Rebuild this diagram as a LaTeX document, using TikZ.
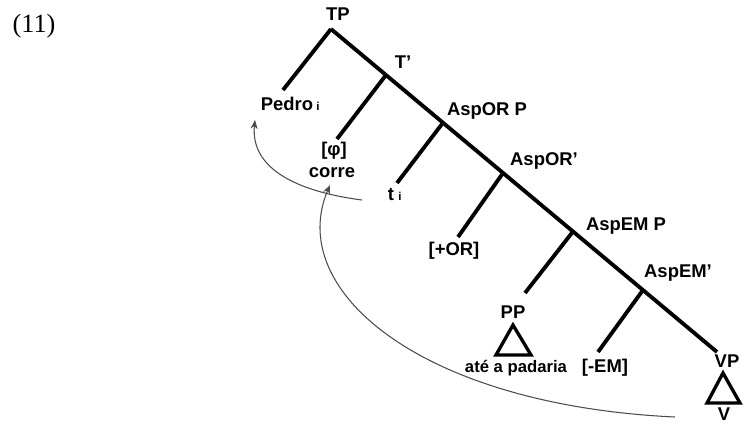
\documentclass[tikz,border=0pt]{standalone}
\usepackage{fontspec}
\setmainfont{Liberation Sans}
\newfontfamily\timesf{Liberation Serif}
\usetikzlibrary{arrows.meta}
\begin{document}
\begin{tikzpicture}[x=0.02cm,y=-0.02cm,
  lbl/.style={font=\fontsize{10.5}{12}\selectfont\bfseries, inner sep=0pt, anchor=base},
  small/.style={font=\fontsize{9.5}{11}\selectfont\bfseries, inner sep=0pt, anchor=base},
  subi/.style={font=\fontsize{6.5}{8}\selectfont\bfseries, inner sep=0pt, anchor=base},
  br/.style={line width=2.2pt},
  tri/.style={line width=1.9pt, line join=miter},
  mv/.style={line width=0.6pt, draw=black!70, -{Stealth[length=5pt,width=4pt]}}]
\useasboundingbox (0,0) rectangle (748,424);

% example number
\node[font=\timesf\fontsize{15}{18}\selectfont, inner sep=0pt, anchor=base] (ex) at (34,32) {(11)};

% spine junctions
\coordinate (jTP) at (331,29);
\coordinate (jT) at (386,75);
\coordinate (jOR) at (443,122.7);
\coordinate (jORb) at (503,173);
\coordinate (jEM) at (573,231.5);
\coordinate (jEMb) at (643,290);
\coordinate (jend) at (717,352);

% leaves of branches
\coordinate (lPedro) at (283,90);
\coordinate (lT) at (337,139);
\coordinate (lOR) at (397,183);
\coordinate (lORb) at (458,237);
\coordinate (lEM) at (525,293);
\coordinate (lEMb) at (598,352);

\draw[br] (jTP) -- (jend);
\draw[br] (jTP) -- (lPedro);
\draw[br] (jT) -- (lT);
\draw[br] (jOR) -- (lOR);
\draw[br] (jORb) -- (lORb);
\draw[br] (jEM) -- (lEM);
\draw[br] (jEMb) -- (lEMb);

% labels
\node[lbl] (TP) at (338,20) {TP};
\node[lbl] (Tbar) at (403,68) {T’};
\node[lbl] (AspORP) at (487,115) {AspOR P};
\node[lbl] (AspORbar) at (544,165) {AspOR’};
\node[lbl] (AspEMP) at (626,230) {AspEM P};
\node[lbl] (AspEMbar) at (678,277) {AspEM’};

\node[lbl] (pedro) at (287,110) {Pedro};
\node[subi] (pedroi) at (318,110) {i};
\node[lbl] (phi) at (334,155) {[φ]};
\node[lbl] (corre) at (332,177) {corre};
\node[lbl] (t) at (391,200) {t};
\node[subi] (ti) at (400,200) {i};
\node[lbl] (plusOR) at (454,255) {[+OR]};
\node[lbl] (PP) at (513,318) {PP};
\node[small] (ate) at (516,372) {até a padaria};
\node[lbl] (minusEM) at (605,372) {[-EM]};
\node[lbl] (VP) at (727,367) {VP};
\node[lbl] (V) at (724,420) {V};

% triangles
\coordinate (ppA) at (513,325);
\coordinate (ppL) at (496,355);
\coordinate (ppR) at (531,355);
\draw[tri] (ppA) -- (ppR) -- (ppL) -- cycle;
\coordinate (vpA) at (723,373);
\coordinate (vpL) at (707,403);
\coordinate (vpR) at (740,403);
\draw[tri] (vpA) -- (vpR) -- (vpL) -- cycle;

% movement arrows
\coordinate (m1s) at (362,200);
\coordinate (m1e) at (255,120);
\draw[mv] (m1s) .. controls (300,192) and (250,170) .. (m1e);
\coordinate (m2s) at (675,417);
\coordinate (m2e) at (330,185);
\draw[mv] (m2s) .. controls (420,405) and (285,290) .. (m2e);
\end{tikzpicture}
\end{document}
